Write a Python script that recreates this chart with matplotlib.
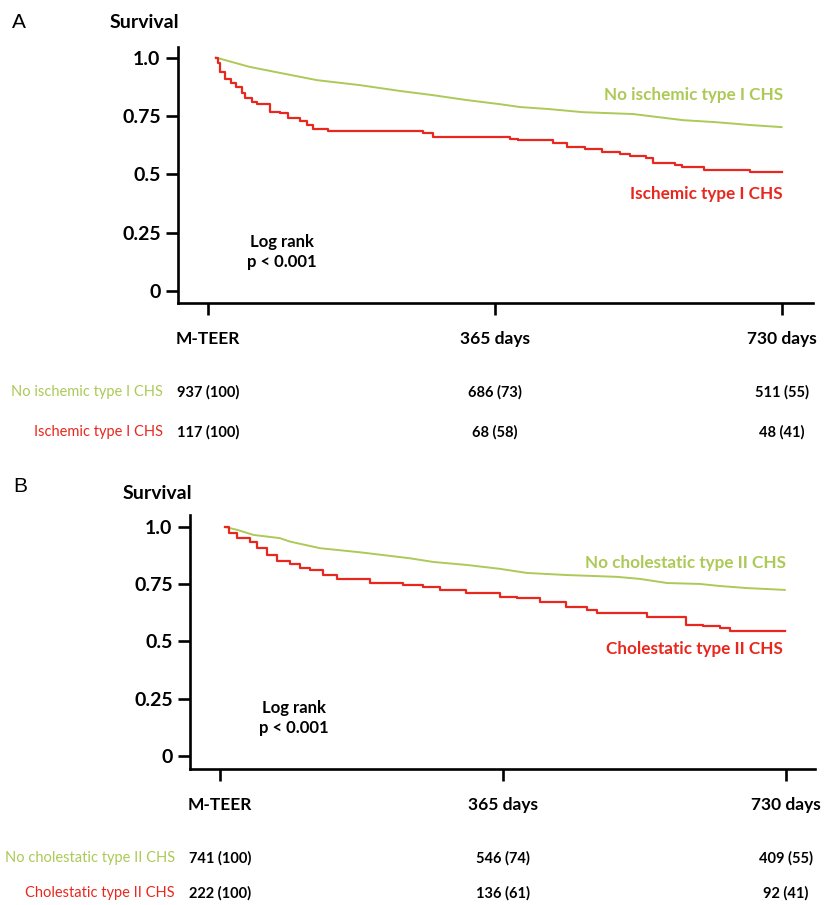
import matplotlib
matplotlib.use("Agg")
import matplotlib.pyplot as plt

plt.rcParams['font.family'] = ['Lato', 'DejaVu Sans']

GREEN = '#adc957'
RED = '#e8281e'

# panel A: ischemic type I CHS
green_a_t = [10, 53, 95, 139, 193, 244, 286, 329, 372, 397, 435, 477, 541, 604, 647, 690, 730]
green_a_s = [1.0, 0.960, 0.932, 0.903, 0.882, 0.857, 0.839, 0.818, 0.800, 0.788, 0.779, 0.766,
             0.758, 0.732, 0.723, 0.711, 0.702]
red_a_t = [10, 13, 16, 22, 30, 36, 43, 47, 56, 62, 79, 92, 102, 117, 126, 134, 153, 274, 286, 384,
           395, 439, 457, 480, 501, 524, 537, 558, 566, 594, 603, 631, 690, 730]
red_a_s = [1.0, 0.975, 0.939, 0.910, 0.889, 0.875, 0.846, 0.825, 0.810, 0.800, 0.768, 0.761,
           0.739, 0.729, 0.711, 0.693, 0.686, 0.677, 0.660, 0.650, 0.646, 0.634, 0.618, 0.608,
           0.596, 0.586, 0.578, 0.569, 0.549, 0.539, 0.531, 0.518, 0.509, 0.509]

# panel B: cholestatic type II CHS
green_b_t = [6, 22, 43, 77, 90, 129, 181, 245, 275, 318, 361, 396, 447, 512, 542, 577, 619,
             645, 680, 729]
green_b_s = [1.0, 0.987, 0.965, 0.951, 0.936, 0.907, 0.889, 0.863, 0.847, 0.834, 0.817, 0.799,
             0.790, 0.782, 0.773, 0.755, 0.751, 0.742, 0.733, 0.725]
red_b_t = [6, 11, 22, 39, 47, 60, 73, 90, 103, 116, 133, 151, 194, 236, 262, 284, 318, 361, 383,
           413, 447, 473, 486, 551, 602, 623, 645, 658, 729]
red_b_s = [1.0, 0.972, 0.953, 0.936, 0.907, 0.878, 0.852, 0.837, 0.819, 0.812, 0.790, 0.773,
           0.757, 0.747, 0.738, 0.725, 0.712, 0.694, 0.690, 0.673, 0.651, 0.638, 0.624, 0.607,
           0.572, 0.568, 0.559, 0.546, 0.546]

x_ticks = [0, 365, 730]
x_labels = ['M-TEER', '365 days', '730 days']
y_ticks = [0, 0.25, 0.5, 0.75, 1.0]
y_labels = ['0', '0.25', '0.5', '0.75', '1.0']

risk_a_groups = ['No ischemic type I CHS', 'Ischemic type I CHS']
risk_a = [['937 (100)', '686 (73)', '511 (55)'],
          ['117 (100)', '68 (58)', '48 (41)']]
risk_b_groups = ['No cholestatic type II CHS', 'Cholestatic type II CHS']
risk_b = [['741 (100)', '546 (74)', '409 (55)'],
          ['222 (100)', '136 (61)', '92 (41)']]

W, H = 825, 905
fig = plt.figure(figsize=(W / 100, H / 100), dpi=100)


def fx(px):
    return px / W


def fy(py):
    return 1 - py / H


def panel(rect, xlim, ylim, gt, gs, rt, rs):
    ax = fig.add_axes(rect)
    ax.plot(gt, gs, color=GREEN, lw=1.4, solid_joinstyle='round')
    ax.plot(rt, rs, color=RED, lw=1.6, drawstyle='steps-post')
    ax.set_xlim(*xlim)
    ax.set_ylim(*ylim)
    for s in ['top', 'right']:
        ax.spines[s].set_visible(False)
    for s in ['left', 'bottom']:
        ax.spines[s].set_linewidth(1.9)
    ax.set_xticks(x_ticks)
    ax.set_xticklabels(x_labels, fontsize=12.5, fontweight='bold')
    ax.set_yticks(y_ticks)
    ax.set_yticklabels(y_labels, fontsize=14, fontweight='bold')
    ax.tick_params(axis='both', length=8.5, width=1.9)
    ax.tick_params(axis='x', pad=12)
    ax.tick_params(axis='y', pad=4)
    return ax


ax_a = panel([fx(178), fy(303), (813 - 178) / W, (303 - 47) / H], (-38, 770), (-0.051, 1.045),
             green_a_t, green_a_s, red_a_t, red_a_s)
ax_b = panel([fx(190), fy(769), (815 - 190) / W, (769 - 515) / H], (-39, 768), (-0.057, 1.052),
             green_b_t, green_b_s, red_b_t, red_b_s)

# panel letters and y titles
fig.text(fx(12), fy(22), 'A', fontsize=15, family='Liberation Sans', va='center', ha='left')
fig.text(fx(144), fy(23), 'Survival', fontsize=14, fontweight='bold', va='center', ha='center')
fig.text(fx(13), fy(486), 'B', fontsize=15, family='Liberation Sans', va='center', ha='left')
fig.text(fx(157), fy(493), 'Survival', fontsize=14, fontweight='bold', va='center', ha='center')

# curve labels
fig.text(fx(783), fy(95), risk_a_groups[0], color=GREEN, fontsize=12.3, fontweight='bold',
         ha='right', va='center')
fig.text(fx(783), fy(194), risk_a_groups[1], color=RED, fontsize=12.3, fontweight='bold',
         ha='right', va='center')
fig.text(fx(786), fy(563), risk_b_groups[0], color=GREEN, fontsize=12.3, fontweight='bold',
         ha='right', va='center')
fig.text(fx(783), fy(649), risk_b_groups[1], color=RED, fontsize=12.3, fontweight='bold',
         ha='right', va='center')

# log rank
fig.text(fx(282), fy(252), 'Log rank\np < 0.001', fontsize=12, fontweight='bold',
         ha='center', va='center', linespacing=1.25)
fig.text(fx(294), fy(718), 'Log rank\np < 0.001', fontsize=12, fontweight='bold',
         ha='center', va='center', linespacing=1.25)


def risk_row_y(ax, py):
    # figure pixel row -> axes fraction
    bb = ax.get_position()
    return (fy(py) - bb.y0) / bb.height


# numbers at risk
for ax, groups, rows, lr, ys in [(ax_a, risk_a_groups, risk_a, 163, [392, 432]),
                                 (ax_b, risk_b_groups, risk_b, 175, [858, 893])]:
    colors = [GREEN, RED]
    for g, row, yy, c in zip(groups, rows, ys, colors):
        fig.text(fx(lr), fy(yy), g, color=c, fontsize=10.5, ha='right', va='center')
        for xt, val in zip(x_ticks, row):
            ax.text(xt, risk_row_y(ax, yy), val, fontsize=10.5, fontweight='bold',
                    ha='center', va='center', transform=ax.get_xaxis_transform(),
                    clip_on=False)

fig.savefig('out.png', dpi=100)
